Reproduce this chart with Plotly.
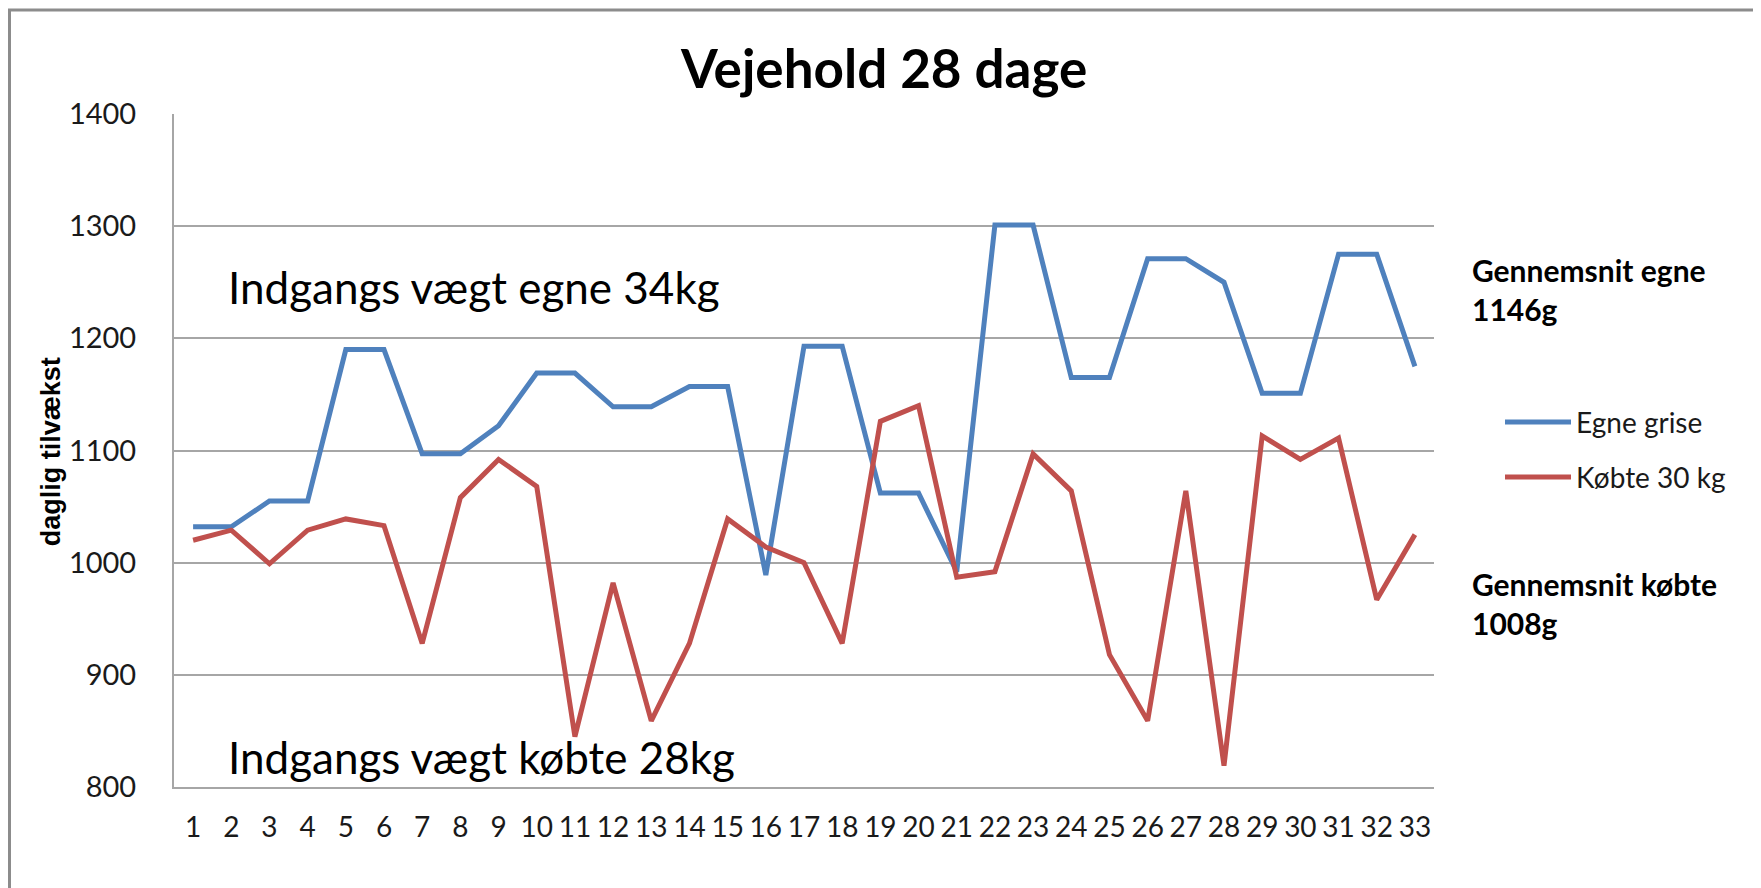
import plotly.graph_objects as go

days = list(range(1, 34))
egne = [1032, 1032, 1055, 1055, 1190, 1190, 1097, 1097, 1122, 1169, 1169, 1139, 1139, 1157, 1157, 989,
        1193, 1193, 1062, 1062, 992, 1301, 1301, 1165, 1165, 1271, 1271, 1250, 1151, 1151, 1275, 1275, 1175]
kobte = [1020, 1029, 999, 1029, 1039, 1033, 928, 1058, 1092, 1068, 845, 982, 859, 928, 1039, 1014,
         1000, 928, 1126, 1140, 987, 992, 1097, 1064, 918, 859, 1064, 819, 1113, 1092, 1111, 967, 1025]
y_ticks = [800, 900, 1000, 1100, 1200, 1300, 1400]
x_ticks = [str(d) for d in days]

W, H = 1761, 888
OFF = 8  # default page body margin
L, R, T, B = 174, 1434, 113.5, 787  # plot area in page pixels
def px(x):
    return (x - L) / (R - L)
def py(y):
    return (B - y) / (B - T)

FONT = "Lato"
TXT = "#1a1a1a"
fig = go.Figure()
fig.add_trace(go.Scatter(x=days, y=egne, mode="lines", name="Egne grise",
                         line=dict(color="#4F81BD", width=5), legend="legend"))
fig.add_trace(go.Scatter(x=days, y=kobte, mode="lines", name="Købte 30 kg",
                         line=dict(color="#C0504D", width=5), legend="legend2"))

fig.update_layout(
    width=W - OFF, height=H - OFF,
    margin=dict(l=L - OFF, r=W - R, t=T - OFF, b=H - B),
    paper_bgcolor="white", plot_bgcolor="white",
    font=dict(family=FONT, color="#000000"),
    xaxis=dict(range=[0.5, 33.5], tickmode="array", tickvals=days, ticktext=x_ticks,
               showgrid=False, zeroline=False, showline=True, linecolor="#a6a6a6", linewidth=2,
               ticks="", tickfont=dict(size=28, family=FONT, color=TXT), ticklabelstandoff=14),
    yaxis=dict(range=[800, 1400], tickmode="array", tickvals=y_ticks,
               showgrid=True, gridcolor="#a6a6a6", gridwidth=2, zeroline=False,
               showline=True, linecolor="#a6a6a6", linewidth=2, ticks="",
               tickfont=dict(size=29, family=FONT, color=TXT), ticklabelstandoff=30),
    showlegend=True,
    legend=dict(x=px(1500), y=py(422), xanchor="left", yanchor="middle",
                font=dict(size=28, family=FONT, color=TXT), itemwidth=66,
                bgcolor="rgba(0,0,0,0)"),
    legend2=dict(x=px(1500), y=py(477), xanchor="left", yanchor="middle",
                 font=dict(size=28, family=FONT, color=TXT), itemwidth=66,
                 bgcolor="rgba(0,0,0,0)"),
    shapes=[dict(type="rect", xref="paper", yref="paper",
                 x0=px(9.5), x1=px(1757), y0=py(9.5), y1=py(900),
                 line=dict(color="#8c8c8c", width=3), fillcolor="rgba(0,0,0,0)", layer="below")],
    annotations=[
        dict(text="<b>Vejehold 28 dage</b>", xref="paper", yref="paper", x=px(883), y=py(67),
             xanchor="center", yanchor="middle", showarrow=False,
             font=dict(size=53, family=FONT, color="#000")),
        dict(text="<b>daglig tilvækst</b>", xref="paper", yref="paper", x=px(51), y=py(452),
             xanchor="center", yanchor="middle", showarrow=False, textangle=-90,
             font=dict(size=27, family="Liberation Sans", color="#000")),
        dict(text="Indgangs vægt egne 34kg", xref="paper", yref="paper", x=px(226), y=py(287),
             xanchor="left", yanchor="middle", showarrow=False,
             font=dict(size=44, family=FONT, color="#000")),
        dict(text="Indgangs vægt købte 28kg", xref="paper", yref="paper", x=px(226), y=py(757),
             xanchor="left", yanchor="middle", showarrow=False,
             font=dict(size=44, family=FONT, color="#000")),
        dict(text="<b>Gennemsnit egne<br>1146g</b>", xref="paper", yref="paper", x=px(1470), y=py(289),
             xanchor="left", yanchor="middle", align="left", showarrow=False,
             font=dict(size=30, family=FONT, color="#000")),
        dict(text="<b>Gennemsnit købte<br>1008g</b>", xref="paper", yref="paper", x=px(1470), y=py(603),
             xanchor="left", yanchor="middle", align="left", showarrow=False,
             font=dict(size=30, family=FONT, color="#000")),
    ],
)

fig.write_html("out.html")
